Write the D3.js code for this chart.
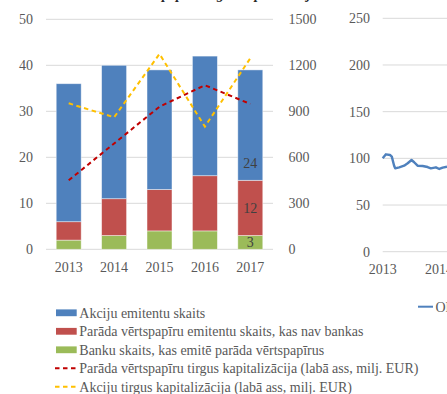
<!DOCTYPE html>
<html>
<head>
<meta charset="utf-8">
<script src="https://cdn.jsdelivr.net/npm/d3@7/dist/d3.min.js"></script>
<style>
  html, body { margin: 0; padding: 0; background: #fff; }
  svg { display: block; font-family: "Liberation Serif", "Times New Roman", serif; }
</style>
</head>
<body>
<svg id="chart" width="447" height="394"></svg>
<script>
// Issuers by year (left axis, count) and market capitalisation (right axis, mln EUR)
const years = ["2013", "2014", "2015", "2016", "2017"];
const banks = [2, 3, 4, 4, 3];                 // Banku skaits, kas emitē parāda vērtspapīrus
const debtIssuers = [4, 8, 9, 12, 12];         // Parāda vērtspapīru emitentu skaits, kas nav bankas
const shareIssuers = [30, 29, 26, 26, 24];     // Akciju emitentu skaits
const debtCap = [450, 690, 930, 1070, 948];    // Parāda vērtspapīru tirgus kapitalizācija
const shareCap = [952, 861, 1274, 800, 1246];  // Akciju tirgus kapitalizācija
const leftTicks = [0, 10, 20, 30, 40, 50];
const rightTicks = [0, 300, 600, 900, 1200, 1500];

// Share index (second panel)
const indexDates = ["2013-01-01", "2013-01-22", "2013-02-17", "2013-03-01", "2013-03-16", "2013-03-23",
  "2013-04-18", "2013-05-20", "2013-06-12", "2013-07-07", "2013-07-24", "2013-08-15", "2013-09-17",
  "2013-10-19", "2013-11-09", "2013-12-12", "2014-01-03", "2014-01-25", "2014-02-22"];
const indexValues = [100, 104.3, 103.6, 101.8, 92.1, 89.3, 90.4, 92.1, 94.7, 98.2, 95.8, 92.1, 91.8,
  90.7, 89.3, 90.4, 88.6, 90, 91];
const indexTicks = [0, 50, 100, 150, 200, 250];
const indexYears = ["2013", "2014"];

const svg = d3.select("#chart");
const grid = "#d9d9d9", txt = "#595959";

// ---- left panel ----
const x = d3.scaleBand().domain(years).range([46, 273]).paddingInner(0.45).paddingOuter(0.225);
const yL = d3.scaleLinear().domain([0, 50]).range([249.3, 19.3]);
const yR = d3.scaleLinear().domain([0, 1500]).range([249.3, 19.3]);

svg.append("g").selectAll("line").data(leftTicks).join("line")
  .attr("x1", 46).attr("x2", 273)
  .attr("y1", d => yL(d)).attr("y2", d => yL(d))
  .attr("stroke", grid).attr("stroke-width", 1);

svg.append("g").selectAll("text").data(leftTicks).join("text")
  .attr("x", 33).attr("y", d => yL(d) + 5)
  .attr("text-anchor", "end").attr("font-size", 14).attr("fill", txt)
  .text(d => d);

svg.append("g").selectAll("text").data(rightTicks).join("text")
  .attr("x", 288.5).attr("y", d => yR(d) + 5)
  .attr("text-anchor", "start").attr("font-size", 14).attr("fill", txt)
  .text(d => d);

const stackRows = years.map((yr, i) => ({ year: yr, banks: banks[i], debt: debtIssuers[i], shares: shareIssuers[i] }));
const keys = ["banks", "debt", "shares"];
const colors = { banks: "#9BBB59", debt: "#C0504D", shares: "#4F81BD" };
const stacked = d3.stack().keys(keys)(stackRows);

svg.append("g").selectAll("g").data(stacked).join("g")
  .attr("fill", d => colors[d.key])
  .selectAll("rect").data(d => d).join("rect")
  .attr("x", d => x(d.data.year))
  .attr("width", x.bandwidth())
  .attr("y", d => yL(d[1]))
  .attr("height", d => yL(d[0]) - yL(d[1]))
  .attr("stroke", "rgba(255,255,255,0.55)").attr("stroke-width", 0.8);

// value labels on the last column
const last = years.length - 1;
const lastLabels = stacked.map(s => ({ key: s.key, lo: s[last][0], hi: s[last][1] }));
svg.append("g").selectAll("text").data(lastLabels).join("text")
  .attr("x", x(years[last]) + x.bandwidth() / 2)
  .attr("y", d => d.key === "shares" ? yL(d.lo) - 12.5 : yL((d.lo + d.hi) / 2) + 5)
  .attr("text-anchor", "middle").attr("font-size", 14).attr("fill", "#404040")
  .text(d => d.hi - d.lo);

// capitalisation lines
const cx = d => x(d) + x.bandwidth() / 2;
const capLine = d3.line().x((d, i) => cx(years[i])).y(d => yR(d));
svg.append("path").datum(debtCap).attr("d", capLine)
  .attr("fill", "none").attr("stroke", "#C00000").attr("stroke-width", 2)
  .attr("stroke-dasharray", "4.5,3.5");
svg.append("path").datum(shareCap).attr("d", capLine)
  .attr("fill", "none").attr("stroke", "#FFC000").attr("stroke-width", 2)
  .attr("stroke-dasharray", "4.5,3.5");

svg.append("g").selectAll("text").data(years).join("text")
  .attr("x", d => cx(d)).attr("y", 271.5)
  .attr("text-anchor", "middle").attr("font-size", 14).attr("fill", txt)
  .text(d => d);

// ---- right panel (index) ----
const parse = d3.timeParse("%Y-%m-%d");
const xT = d3.scaleTime().domain([parse("2013-01-01"), parse("2014-01-01")]).range([382.7, 439]);
const yI = d3.scaleLinear().domain([0, 250]).range([251.7, 18.3]);

svg.append("g").selectAll("line").data(indexTicks).join("line")
  .attr("x1", 382.7).attr("x2", 447)
  .attr("y1", d => yI(d)).attr("y2", d => yI(d))
  .attr("stroke", grid).attr("stroke-width", 1);

svg.append("g").selectAll("text").data(indexTicks).join("text")
  .attr("x", 370).attr("y", d => yI(d) + 5)
  .attr("text-anchor", "end").attr("font-size", 14).attr("fill", txt)
  .text(d => d);

svg.append("g").selectAll("text").data(indexYears).join("text")
  .attr("x", d => xT(parse(d + "-01-01"))).attr("y", 273.5)
  .attr("text-anchor", "middle").attr("font-size", 14).attr("fill", txt)
  .text(d => d);

const idxLine = d3.line().x((d, i) => xT(parse(indexDates[i]))).y(d => yI(d));
svg.append("path").datum(indexValues).attr("d", idxLine)
  .attr("fill", "none").attr("stroke", "#4F81BD").attr("stroke-width", 2.4)
  .attr("stroke-linejoin", "round");

// ---- titles (top edge) ----
svg.append("text").attr("x", 8).attr("y", -1.5)
  .attr("font-size", 14).attr("font-weight", "bold").attr("font-style", "italic").attr("fill", "#262626")
  .text("Emitentu skaits un to vērtspapīru tirgus kapitalizācija");
svg.append("text").attr("x", 428).attr("y", -1.5)
  .attr("font-size", 14).attr("font-weight", "bold").attr("font-style", "italic").attr("fill", "#262626")
  .text("OMX Riga");

// ---- legend ----
const legendItems = [
  { label: "Akciju emitentu skaits", color: "#4F81BD", type: "rect" },
  { label: "Parāda vērtspapīru emitentu skaits, kas nav bankas", color: "#C0504D", type: "rect" },
  { label: "Banku skaits, kas emitē parāda vērtspapīrus", color: "#9BBB59", type: "rect" },
  { label: "Parāda vērtspapīru tirgus kapitalizācija (labā ass, milj. EUR)", color: "#C00000", type: "dash" },
  { label: "Akciju tirgus kapitalizācija (labā ass, milj. EUR)", color: "#FFC000", type: "dash" }
];
const lg = svg.append("g").selectAll("g").data(legendItems).join("g")
  .attr("transform", (d, i) => `translate(0, ${312.8 + i * 18.5})`);
lg.filter(d => d.type === "rect").append("rect")
  .attr("x", 56).attr("y", -3.4).attr("width", 20.7).attr("height", 6.8)
  .attr("fill", d => d.color);
lg.filter(d => d.type === "dash").append("line")
  .attr("x1", 55).attr("x2", 77).attr("y1", 0).attr("y2", 0)
  .attr("stroke", d => d.color).attr("stroke-width", 2).attr("stroke-dasharray", "4.5,3.5");
lg.append("text").attr("x", 79.3).attr("y", 4.8)
  .attr("font-size", 14).attr("fill", txt)
  .text(d => d.label);

// index legend
svg.append("line").attr("x1", 418).attr("x2", 433).attr("y1", 306.7).attr("y2", 306.7)
  .attr("stroke", "#4F81BD").attr("stroke-width", 2);
svg.append("text").attr("x", 435.5).attr("y", 311.5).attr("font-size", 14).attr("fill", txt)
  .text("OMX Riga");
</script>
</body>
</html>
